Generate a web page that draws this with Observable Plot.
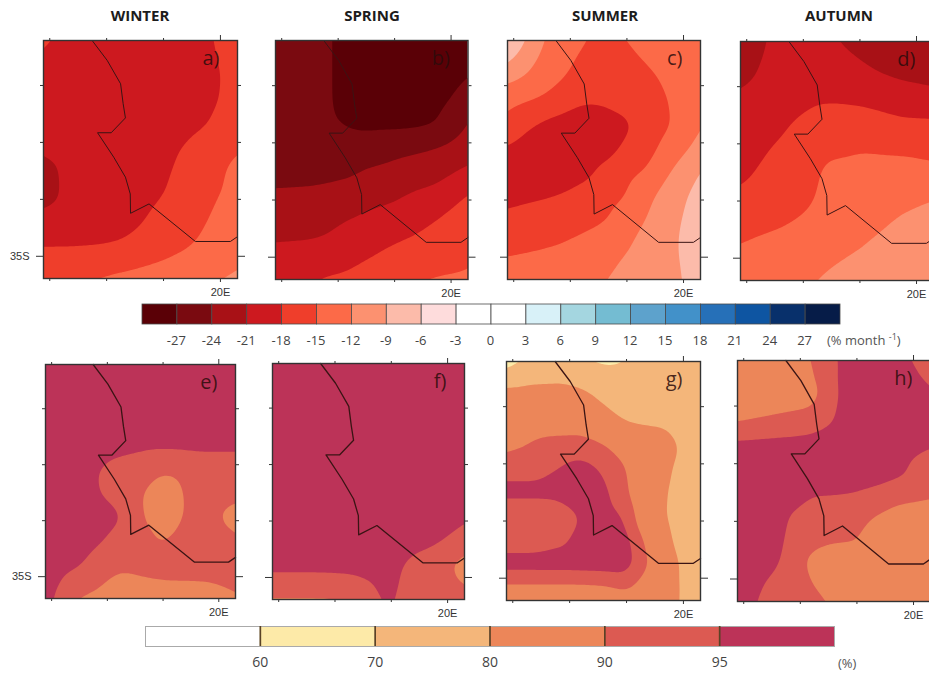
<!DOCTYPE html>
<html><head><meta charset="utf-8">
<style>
html,body{margin:0;padding:0;background:#fff;overflow:hidden}
#page{position:relative;width:929px;height:675px;overflow:hidden;font-family:"Open Sans",sans-serif}
#page svg{position:absolute;max-width:none;background:transparent}
.title{position:absolute;top:5px;width:120px;text-align:center;font-weight:700;font-size:15px;color:#1c1c1c}
.unit{position:absolute;color:#555;font-size:13px;white-space:nowrap}
.unit sup{font-size:9px;line-height:0}
</style>
<script src="https://cdn.jsdelivr.net/npm/d3@7"></script>
<script src="https://cdn.jsdelivr.net/npm/@observablehq/plot@0.6"></script>
</head><body><div id="page"></div>
<script>
// ---------- data: gridded fields, 9 columns (west to east) x 10 rows (north to south) ----------
const winterChange = [
[-18.4,-19,-19.5,-20,-20,-20,-19.5,-18.6,-17.4],
[-19,-19.5,-20,-20,-20,-20,-19.5,-18.8,-17.7],
[-19,-19.5,-20,-20,-20,-19.8,-19.2,-18.7,-17.6],
[-19.5,-20,-20,-20,-19.8,-19.4,-18.8,-18.2,-17],
[-20.4,-20,-20,-19.8,-19.3,-18.6,-17.9,-17,-16],
[-21.3,-19.8,-20,-19.8,-19.2,-18.3,-17.6,-16.6,-14.9],
[-21.3,-20,-20,-19.7,-19,-18.1,-17,-15.7,-14.6],
[-20,-20,-20,-19.5,-18.3,-17.1,-16,-15.2,-14],
[-18.3,-18.3,-18.2,-17.9,-17.2,-16.5,-15.5,-14.6,-13.7],
[-16.5,-16.4,-16.1,-15.6,-15.1,-14.5,-14,-13.2,-12.5]];
const springChange = [
[-25.5,-25.8,-26.8,-28,-28.5,-28.5,-28.5,-28.5,-28.2],
[-25.5,-25.8,-26.8,-28,-28.5,-28.5,-28.5,-28.3,-27.5],
[-25.5,-25.8,-26.8,-28,-28.5,-28.5,-28.5,-27.9,-26.6],
[-25.5,-25.7,-26.6,-27.4,-27.6,-27.7,-27.6,-27.1,-24.9],
[-25.3,-25.4,-25.8,-25.7,-25.6,-25,-24.6,-24,-23],
[-24.8,-24.8,-24.6,-24.4,-23.6,-23.1,-22.4,-21.9,-20.9],
[-23.6,-23.5,-23.3,-22.9,-21.9,-21.4,-20.6,-20.2,-18.6],
[-22.2,-22.2,-21.7,-20.9,-20.3,-20,-19,-18,-16.9],
[-20.9,-20.8,-20.5,-19.5,-18.9,-18,-17.5,-16.8,-16],
[-19.5,-19.3,-18.6,-18.1,-17.3,-16.5,-16,-15.5,-15.2]];
const summerChange = [
[-8.9,-12,-14,-15.2,-16,-15.6,-14.3,-13.4,-12.8],
[-11.5,-13,-14.7,-16,-16.5,-16.5,-15.7,-14.3,-13.5],
[-14.7,-15.2,-16.5,-17.8,-17.7,-17,-16.5,-15,-13.5],
[-16.7,-18.4,-19,-19.2,-19,-18.6,-16.8,-15.3,-13.3],
[-18.8,-19.5,-20,-20,-19.3,-17.5,-16,-14,-12],
[-19.5,-20,-20,-19,-17.2,-15.8,-14.8,-12.2,-10],
[-18.6,-18.3,-17.8,-16.8,-15.9,-15.1,-12.7,-10.8,-8.8],
[-17.2,-16.8,-16.5,-16,-15.3,-13.8,-11.8,-10.3,-8.2],
[-15.8,-15.4,-15,-14.3,-13.4,-12.4,-11,-9.7,-8.2],
[-14,-13.8,-13.6,-13.2,-12.6,-11.5,-10.6,-9.7,-8.5]];
const autumnChange = [
[-22,-20.3,-19.5,-19.5,-20.3,-21.3,-22,-23,-23],
[-21.2,-20,-19.5,-19.2,-19.3,-20,-20.8,-21.2,-21.5],
[-20,-19.5,-19,-18.2,-18.1,-18.2,-18.7,-19.5,-19.8],
[-19.8,-19,-17.7,-16.8,-16.8,-17,-17,-17.3,-17.3],
[-19,-17.8,-16.8,-16,-15.6,-15.1,-15.2,-15.3,-15.6],
[-18.1,-17,-16.3,-15.3,-14,-14.1,-14.2,-14.2,-14.2],
[-17,-16.5,-16,-15,-13.8,-13.5,-13.3,-13,-12.5],
[-16,-15.6,-15,-14.3,-13.6,-13.2,-12.6,-11.6,-11],
[-14.7,-14.2,-13.8,-13.3,-12.8,-12.2,-11.4,-10.8,-10.5],
[-13.6,-13.3,-13,-12.5,-11.8,-11.2,-10.8,-10.4,-10]];
const winterShare = [
[98,98,98,98,98,98,98,98,98],
[98,98,98,98,98,98,98,98,98],
[98,98,98,98,98,98,98,98,98],
[98,98,98,97,96,95.7,95.8,96,96],
[98,97,95,92.5,92,90.5,91,92,92],
[98,97,95.2,92.5,90.5,87,90.1,91.5,91.5],
[98,98,97,96,90.5,87,90.1,91.5,89.5],
[98,97.5,95.7,93.5,92,89.5,91,92,91],
[97,96,93,91,91.5,92,92,92,92],
[95.3,92,90.3,88,88.8,89.2,89.3,89.4,90.1]];
const springShare = [
[98,98,98,98,98,98,98,98,98],
[98,98,98,98,98,98,98,98,98],
[98,98,98,98,98,98,98,98,98],
[98,98,98,98,98,98,98,98,98],
[98,98,98,98,98,98,98,98,98],
[98,98,98,98,98,98,98,98,98],
[98,98,98,98,98,98,98,98,96.5],
[98,98,98,98,98,98,98,96,94],
[96.7,96.7,96.7,96.7,97.3,98,93,92.5,89.5],
[92,92,92,92.5,94,97,92,92,91]];
const summerShare = [
[74,77.5,77.5,75,72,72,72,72,72],
[84,83,84,83,78.5,75,74,74,73],
[85,87,87,87,84,79.7,79.2,78.8,74],
[89.5,91.5,92,92.5,90.5,87,84,83,77],
[93,93,95.5,97,94.5,90.5,84,81,76],
[97,97,97,97,96.5,91.5,83,80,76],
[90,90,91.5,95.5,97,95.2,84,79.5,75],
[92.5,92.5,94,97,98,97.5,89,80.8,76],
[97.5,97.5,97.5,97.5,97.5,98,91,83,77.5],
[88.5,88.5,88.5,88.5,89,91,87,82,78.5]];
const autumnShare = [
[85,85,85,89.7,94.8,97,98,97,94.8],
[86,86.5,87,87.8,94.2,98,98,98,96.5],
[90,91,92,92.5,94.8,98,98,98,98],
[96.4,96.5,96.5,97,97,98,98,98,97],
[98,98,98,98,98,98,97.5,97,92.5],
[98,98,97,95.2,95.2,95,94,91.3,91],
[98,97.5,94.6,93,93,92,89.5,88.5,88],
[98,97,94,91.5,90.5,90.3,87,86,86],
[97.5,96,93.5,88,86,86,86,86,86],
[97,94,92,90.5,88,86,86,86,86]];

const coastLon = [15.49,16.02,16.49,16.58,16.66,16.16,15.68,16.25,16.66,16.83,16.84,17.49,19.12,20.35,20.6];
const coastLat = [-27.42,-28.12,-28.94,-29.64,-30.14,-30.66,-30.66,-31.52,-32.22,-32.81,-33.49,-33.16,-34.48,-34.48,-34.31];

const seasons = ["WINTER","SPRING","SUMMER","AUTUMN"];
const letters = ["a)","b)","c)","d)","e)","f)","g)","h)"];
const changeFields = [winterChange,springChange,summerChange,autumnChange];
const shareFields = [winterShare,springShare,summerShare,autumnShare];
const lonMinor = [14,16,18], lonMajor = [20];
const latMinor = [-33,-31,-29], latMajor = [-35];
const lonExtent = [13.78,20.6], latExtent = [-35.78,-27.42];

const changeBreaks = [-27,-24,-21,-18,-15,-12,-9,-6,-3,0,3,6,9,12,15,18,21,24,27];
const changeLows = [-30,...changeBreaks];
const changeColors = ["#5a0006","#7a0a10","#a81116","#cd191f","#ef3e2b","#fc6a48","#fc9170","#fcbbaa","#fedcdc","#ffffff","#ffffff","#d8f1f8","#a4d6e0","#74bcd2","#5da2cc","#4291c9","#2670b8","#0e55a2","#08306b","#061c48"];
const shareBreaks = [60,70,80,90,95];
const shareLows = [50,...shareBreaks];
const shareColors = ["#ffffff","#fdeaa8","#f4b67a","#ec8659","#dc5a52","#bc3358"];

// ---------- layout ----------
const page = document.getElementById("page");
const panelBoxes = [
 [43,237,40,278],[274.5,467,40,279],[507,700,40,279],[740,933,41,280],
 [45,235,364,598],[272,464,363,599],[506,700,361,600],[737,930,360,601]];
const M = {l:40,r:14,t:14,b:26};
const labelFont = {fontFamily:"'Liberation Sans',sans-serif",fontSize:11};

// grid nodes as lon/lat/value records; one ring of nodes outside the frame
// continues the edge gradient so the contours run straight out through it.
function gridNodes(field){
  const nx=field[0].length, ny=field.length, out=[];
  const dx=(lonExtent[1]-lonExtent[0])/nx, dy=(latExtent[1]-latExtent[0])/ny;
  const col=(i,r)=> i<0 ? 2*r[0]-r[1] : i>=nx ? 2*r[nx-1]-r[nx-2] : r[i];
  const val=(i,j)=> j<0 ? 2*col(i,field[0])-col(i,field[1]) : j>=ny ? 2*col(i,field[ny-1])-col(i,field[ny-2]) : col(i,field[j]);
  for(let j=-1;j<=ny;j++)for(let i=-1;i<=nx;i++)
    out.push({lon:lonExtent[0]+(i+.5)*dx,lat:latExtent[1]-(j+.5)*dy,v:val(i,j)});
  return out;
}

function panel(i, field, scale, thresholds){
  const [x0,x1,y0,y1] = panelBoxes[i];
  const leftCol = i%4===0;
  const tickStyle = {stroke:"#333",strokeWidth:1,label:null};
  const svg = Plot.plot({
    width:x1-x0+M.l+M.r, height:y1-y0+M.t+M.b,
    marginLeft:M.l, marginRight:M.r, marginTop:M.t, marginBottom:M.b,
    style:{background:"transparent",overflow:"visible",...labelFont},
    x:{domain:lonExtent,axis:null},
    y:{domain:latExtent,axis:null},
    color:scale,
    marks:[
      Plot.contour(gridNodes(field),{x:"lon",y:"lat",fill:"v",interpolate:"barycentric",pixelSize:2,blur:3,thresholds,
        x1:lonExtent[0]-.3,x2:lonExtent[1]+.3,y1:latExtent[1]+.3,y2:latExtent[0]-.3,clip:"frame"}),
      Plot.line(coastLon,{x:d=>d,y:(d,k)=>coastLat[k],stroke:"#3a1414",strokeWidth:i<4?1:1.3}),
      Plot.frame({stroke:"#333",strokeWidth:1.4}),
      Plot.axisX({anchor:"top",ticks:lonMinor,tickSize:3,tickFormat:()=>"",...tickStyle}),
      Plot.axisX({anchor:"bottom",ticks:lonMinor,tickSize:3,tickFormat:()=>"",...tickStyle}),
      Plot.axisX({anchor:"top",ticks:lonMajor,tickSize:6,tickFormat:()=>"",...tickStyle}),
      Plot.axisX({anchor:"bottom",ticks:lonMajor,tickSize:4,tickPadding:6,tickFormat:d=>d+"E",fill:"#333",...tickStyle}),
      Plot.axisY({anchor:"left",ticks:latMinor,tickSize:3,tickFormat:()=>"",...tickStyle}),
      Plot.axisY({anchor:"right",ticks:latMinor,tickSize:3,tickFormat:()=>"",...tickStyle}),
      Plot.axisY({anchor:"left",ticks:latMajor,tickSize:7,tickPadding:7,tickFormat:d=>leftCol?(-d)+"S":"",fill:"#333",...tickStyle}),
      Plot.axisY({anchor:"right",ticks:latMajor,tickSize:7,tickFormat:()=>"",...tickStyle}),
      Plot.text([letters[i]],{frameAnchor:"top-right",dx:-18,dy:10,fontSize:20,fontFamily:"'Open Sans',sans-serif",fill:"#2b0c0c",fillOpacity:.85})
    ]
  });
  svg.style.left=(x0-M.l)+"px"; svg.style.top=(y0-M.t)+"px";
  page.appendChild(svg);
}

const changeScale = {type:"threshold",domain:changeBreaks,range:changeColors};
const shareScale = {type:"threshold",domain:shareBreaks,range:shareColors};
changeFields.forEach((f,i)=>panel(i,f,changeScale,changeLows));
shareFields.forEach((f,i)=>panel(i+4,f,shareScale,shareLows));

seasons.forEach((s,i)=>{
  const d=document.createElement("div"); d.className="title"; d.textContent=s;
  d.style.left=([140,372,605,839][i]-60)+"px"; page.appendChild(d);
});

// ---------- colour bars ----------
function placeBar(svg,top){svg.style.left="0px";svg.style.top=top+"px";page.appendChild(svg);}
const barStyle={background:"transparent",fontFamily:"'Open Sans',sans-serif",fontSize:"13px",color:"#444"};
placeBar(Plot.plot({
  width:929,height:46,marginLeft:142,marginRight:89,marginTop:2,marginBottom:24,style:barStyle,
  x:{domain:[-30,30]},y:{domain:[0,1],axis:null},color:changeScale,
  marks:[
    Plot.rect(changeLows,{x1:d=>d,x2:d=>d+3,y1:0,y2:1,fill:d=>d,stroke:"#4a4a4a",strokeWidth:.8}),
    Plot.axisX({ticks:changeBreaks,tickSize:0,tickPadding:11,dx:-1,tickFormat:d=>String(d),label:null,fill:"#444"})
  ]}),302);
placeBar(Plot.plot({
  width:929,height:46,marginLeft:145,marginRight:95,marginTop:2,marginBottom:24,
  style:{...barStyle,fontSize:"14px"},
  x:{domain:[0,6]},y:{domain:[0,1],axis:null},color:shareScale,
  marks:[
    Plot.rect(shareLows,{x1:(d,i)=>i,x2:(d,i)=>i+1,y1:0,y2:1,fill:d=>d}),
    Plot.frame({stroke:"#aaa",strokeWidth:1}),
    Plot.ruleX([1,2,3,4,5],{stroke:"#5a4326",strokeWidth:1.7}),
    Plot.axisX({ticks:[1,2,3,4,5],tickSize:0,tickPadding:11,tickFormat:i=>String(shareBreaks[i-1]),label:null,fill:"#444"})
  ]}),624);

const u1=document.createElement("div");u1.className="unit";u1.innerHTML="(% month <sup>-1</sup>)";u1.style.left="827px";u1.style.top="331px";page.appendChild(u1);
const u2=document.createElement("div");u2.className="unit";u2.textContent="(%)";u2.style.left="838px";u2.style.top="654px";page.appendChild(u2);
</script></body></html>
